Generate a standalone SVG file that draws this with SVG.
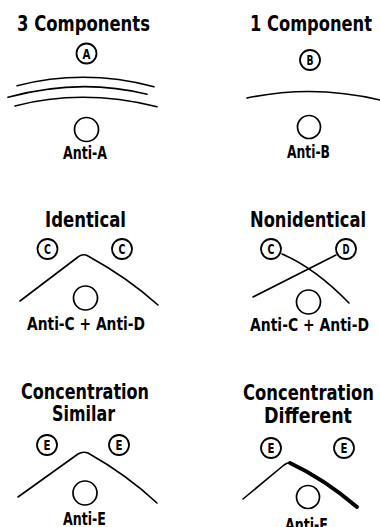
<svg xmlns="http://www.w3.org/2000/svg" width="380" height="527" viewBox="0 0 380 527">
<style>
text{font-family:"DejaVu Sans Condensed","Liberation Sans Narrow","Liberation Sans",sans-serif;font-weight:bold;fill:#000}
.title{font-size:22px}
.lab{font-size:17px}
.let{font-size:14px;text-anchor:middle}
.ring{fill:none;stroke:#000;stroke-width:1.8}
.well{fill:none;stroke:#000;stroke-width:1.7}
.ln{fill:none;stroke:#000;stroke-width:1.6;stroke-linecap:round;stroke-linejoin:round}
.thick{fill:none;stroke:#000;stroke-width:4;stroke-linecap:round}
</style>
<rect width="380" height="527" fill="#fff"/>

<g id="panel-3-components">
  <text class="title" x="17" y="31" textLength="133" lengthAdjust="spacingAndGlyphs">3 Components</text>
  <g id="antigen-A"><circle class="ring" cx="86.5" cy="53.5" r="10"/><text class="let" x="86.5" y="58.5" textLength="8" lengthAdjust="spacingAndGlyphs">A</text></g>
  <g id="well-anti-A"><circle class="well" cx="86.5" cy="129.5" r="12"/>
  <text class="lab" x="63" y="159" textLength="44" lengthAdjust="spacingAndGlyphs">Anti-A</text></g>
</g>

<g id="panel-1-component">
  <text class="title" x="250" y="31" textLength="122" lengthAdjust="spacingAndGlyphs">1 Component</text>
  <g id="antigen-B"><circle class="ring" cx="310" cy="60" r="10"/><text class="let" x="310" y="65" textLength="7" lengthAdjust="spacingAndGlyphs">B</text></g>
  <g id="well-anti-B"><circle class="well" cx="309" cy="127" r="11.5"/>
  <text class="lab" x="287" y="158" textLength="43" lengthAdjust="spacingAndGlyphs">Anti-B</text></g>
</g>

<g id="panel-identical">
  <text class="title" x="45" y="226.5" textLength="81" lengthAdjust="spacingAndGlyphs">Identical</text>
  <g id="antigen-C1"><circle class="ring" cx="47.5" cy="249" r="10"/><text class="let" x="47.5" y="254" textLength="7" lengthAdjust="spacingAndGlyphs">C</text></g>
  <g id="antigen-C2"><circle class="ring" cx="122" cy="249" r="10"/><text class="let" x="122" y="254" textLength="7" lengthAdjust="spacingAndGlyphs">C</text></g>
  <g id="well-anti-CD-1"><circle class="well" cx="85.5" cy="298" r="12"/>
  <text class="lab" x="27" y="330" textLength="118" lengthAdjust="spacingAndGlyphs">Anti-C + Anti-D</text></g>
</g>

<g id="panel-nonidentical">
  <text class="title" x="250" y="226.5" textLength="116" lengthAdjust="spacingAndGlyphs">Nonidentical</text>
  <g id="antigen-C3"><circle class="ring" cx="271" cy="249" r="10"/><text class="let" x="271" y="254" textLength="7" lengthAdjust="spacingAndGlyphs">C</text></g>
  <g id="antigen-D"><circle class="ring" cx="346" cy="249" r="10"/><text class="let" x="346" y="254" textLength="7" lengthAdjust="spacingAndGlyphs">D</text></g>
  <g id="well-anti-CD-2"><circle class="well" cx="308.5" cy="302" r="12"/>
  <text class="lab" x="250" y="331" textLength="119" lengthAdjust="spacingAndGlyphs">Anti-C + Anti-D</text></g>
</g>

<g id="panel-concentration-similar">
  <text class="title" x="21" y="399" textLength="128" lengthAdjust="spacingAndGlyphs">Concentration</text>
  <text class="title" x="52" y="421" textLength="63" lengthAdjust="spacingAndGlyphs">Similar</text>
  <g id="antigen-E1"><circle class="ring" cx="47" cy="445" r="10"/><text class="let" x="47" y="450" textLength="7" lengthAdjust="spacingAndGlyphs">E</text></g>
  <g id="antigen-E2"><circle class="ring" cx="119" cy="445" r="10"/><text class="let" x="119" y="450" textLength="7" lengthAdjust="spacingAndGlyphs">E</text></g>
  <g id="well-anti-E"><circle class="well" cx="85" cy="493" r="12"/>
  <text class="lab" x="63" y="525" textLength="43" lengthAdjust="spacingAndGlyphs">Anti-E</text></g>
</g>

<g id="panel-concentration-different">
  <text class="title" x="243" y="400" textLength="131" lengthAdjust="spacingAndGlyphs">Concentration</text>
  <text class="title" x="264" y="423" textLength="88" lengthAdjust="spacingAndGlyphs">Different</text>
  <g id="antigen-E3"><circle class="ring" cx="271" cy="448" r="10"/><text class="let" x="271" y="453" textLength="7" lengthAdjust="spacingAndGlyphs">E</text></g>
  <g id="antigen-E4"><circle class="ring" cx="344" cy="448" r="10"/><text class="let" x="344" y="453" textLength="7" lengthAdjust="spacingAndGlyphs">E</text></g>
  <g id="well-anti-F"><circle class="well" cx="308" cy="497" r="11.5"/>
  <text class="lab" x="285" y="531" textLength="43" lengthAdjust="spacingAndGlyphs">Anti-F</text></g>
</g>

<g id="precipitin-lines">
  <path class="ln" d="M17,85.7 Q85,68.4 154,86.7"/>
  <path class="ln" d="M8,97.3 Q80,77.6 147,94.3"/>
  <path class="ln" d="M15,106 Q82,88.3 157,106.7"/>
  <path class="ln" d="M247,98 Q313,84 380,100"/>
  <path class="ln" d="M20,301 L78,257 Q83,253 88,256 Q128,278 158,305"/>
  <path class="ln" d="M282,254 Q315,268 349,303"/>
  <path class="ln" d="M336,255 L253,297"/>
  <path class="ln" d="M18,497 L78,454 Q83,451 88,453 Q127,475 157,503"/>
  <path class="ln" d="M243,499 L284,465 Q288,462 292,463"/>
  <path class="thick" d="M290,463 C305,470 330,484 357,507"/>
</g>
</svg>
